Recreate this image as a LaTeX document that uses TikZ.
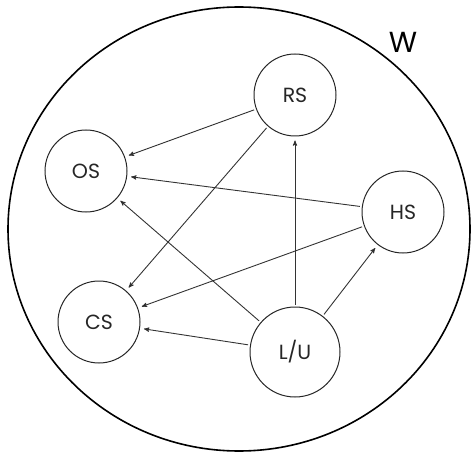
\documentclass[tikz,border=0pt]{standalone}
\usepackage{fontspec}
\setmainfont{Poppins}
\usetikzlibrary{arrows,automata,positioning}

\begin{document}
\begin{tikzpicture}[->,>=stealth',x=1pt,y=-1pt,
thin]
\tikzstyle{every state}=[fill=white,shape=circle,draw=black!85,line width=1pt,text=black!85, inner sep=0pt, minimum size=82pt, font=\fontsize{20.5}{22}\selectfont]
\tikzstyle{link}=[draw=black!80,line width=0.9pt,shorten >=4pt,shorten <=2pt]

\useasboundingbox (0,0) rectangle (471,457);
\draw[-,line width=1.6pt] (239,229) ellipse [x radius=231, y radius=222];
\node[font=\fontsize{29}{30}\selectfont] (W) at (403,42) {W};

\node[state]		(RS) at (295,95)  {RS};
\node[state]        (OS) at (86,171)  {OS};
\node[state]        (HS) at (403,212) {HS};
\node[state]        (CS) at (99,322)  {CS};
\node[state,minimum size=90pt] (LU) at (295,352) {L/U};

\path[link] (RS) edge (OS)
(RS) edge (CS)
(HS) edge (OS)
(HS) edge (CS)
(LU) edge (OS)
(LU) edge (CS)
(LU) edge (RS)
(LU) edge (HS);
\end{tikzpicture}
\end{document}
